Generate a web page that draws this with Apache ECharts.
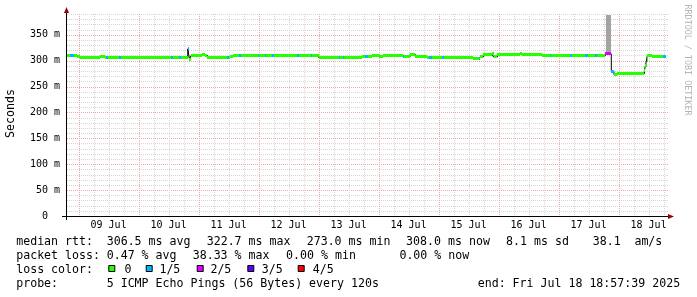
<!DOCTYPE html>
<html><head><meta charset="utf-8">
<script src="https://cdn.jsdelivr.net/npm/echarts@6/dist/echarts.min.js"></script>
<style>html,body{margin:0;padding:0;background:#fff}#c{width:697px;height:297px}</style>
</head><body><div id="c"></div>
<script>
// ---- data (times are July 2025, "MM-DD HH:MM") ----
const startTime = '07-08 18:57:39';
const endTime = '07-18 18:57:39';
const times = [
 '07-08 18:57','07-08 20:40','07-08 22:20','07-08 23:30','07-09 00:40','07-09 08:40','07-09 10:40','07-09 11:05','07-09 11:50',
 '07-09 16:15','07-09 16:55','07-10 13:05','07-10 13:40','07-10 16:15','07-10 16:55','07-10 19:40','07-10 20:20','07-10 21:00',
 '07-11 01:25','07-11 02:40','07-11 03:30','07-11 11:30','07-11 12:00','07-11 12:40','07-11 13:55','07-11 16:20','07-11 17:05',
 '07-11 23:55','07-12 00:20','07-12 02:40','07-12 03:05','07-12 05:30','07-12 06:00','07-12 15:30','07-12 16:20','07-12 21:05',
 '07-12 21:30','07-13 00:00','07-13 08:15','07-13 08:40','07-13 09:50','07-13 10:15','07-13 17:30','07-13 18:40','07-13 19:55',
 '07-13 21:30','07-14 00:00','07-14 01:55','07-14 09:55','07-14 10:20','07-14 12:40','07-14 14:40','07-14 19:30','07-14 20:20',
 '07-14 21:25','07-15 01:30','07-15 02:10','07-15 13:55','07-15 16:00','07-15 16:25','07-15 17:55','07-15 21:30','07-15 22:00',
 '07-15 23:30','07-16 08:40','07-16 09:10','07-16 17:30','07-16 20:40','07-16 21:05','07-17 04:40','07-17 05:25','07-17 10:40',
 '07-17 11:55','07-17 14:40','07-17 15:25','07-17 18:40','07-17 21:05','07-17 22:10','07-17 23:30','07-18 10:20','07-18 10:45',
 '07-18 11:10','07-18 11:30','07-18 13:30','07-18 17:55'
];
const median = [
 310,310,310,308,306,308,306,306,306,
 306,306,306,306,306,306,322.7,303,310,
 312,310,306,306,306,308,310,310,310,
 310,310,310,310,310,310,310,310,310,
 310,306,306,306,306,306,308,308,308,
 310,308,310,308,308,312,308,306,306,
 306,306,306,305,305,307,311,313,307,
 312,313,312,310,309,309,309,309,309,
 309,309,309,313,279,273,275,281,291,
 301,310,308,308
];
const loss = [
 0,1,0,0,0,0,0,1,0,
 1,0,1,0,1,0,1,0,0,
 0,0,0,1,0,0,0,1,0,
 1,0,1,0,1,0,1,0,1,
 0,0,1,0,1,0,0,1,0,
 0,0,0,1,0,0,0,0,1,
 0,1,0,0,1,0,0,0,0,
 0,0,0,0,1,0,1,0,1,
 0,1,0,2,1,0,0,0,0,
 0,0,0,1
];
const smokeStart = ['07-17 19:05'];
const smokeEnd = ['07-17 21:05'];
const smokeLow = [313];
const smokeHigh = [388];
const dayLabels = ['09 Jul','10 Jul','11 Jul','12 Jul','13 Jul','14 Jul','15 Jul','16 Jul','17 Jul','18 Jul'];
const lossColors = ['#26ff00','#00b8ff','#dd00ff','#5e00ff','#ff0000'];
const lossNames = ['0','1/5','2/5','3/5','4/5'];
const yMax = 390;

// ---- helpers ----
function hrs(s){ // hours since 09 Jul 00:00
  const parts = s.split(' ');
  const da = Number(parts[0].split('-')[1]);
  const t = parts[1].split(':').map(Number);
  return (da - 9) * 24 + t[0] + t[1] / 60 + (t[2] || 0) / 3600;
}
const tStart = hrs(startTime), tEnd = hrs(endTime);
const bandData = times.map((t, i) => [hrs(t), i + 1 < times.length ? hrs(times[i + 1]) : tEnd, median[i], loss[i]]);
const lineData = times.map((t, i) => [hrs(t), median[i]]).concat([[tEnd, median[median.length - 1]]]);
const smokeData = smokeStart.map((s, i) => [hrs(s), hrs(smokeEnd[i]), smokeLow[i], smokeHigh[i]]);
const vGrid = [];
for (let h = 0; h <= tEnd; h += 6) vGrid.push([h, h % 24 === 0 ? 1 : 0]);
const hGrid = [];
for (let v = 10; v <= yMax; v += 10) hGrid.push([tStart, v, v % 50 === 0 ? 1 : 0]);
const labelHours = dayLabels.map((d, i) => i * 24 + 12);

const MONO = 'DejaVu Sans Mono';
const RED = '#eca8a8', GREY = '#d6d6d6';

const chart = echarts.init(document.getElementById('c'), null, {renderer: 'canvas', devicePixelRatio: 1});

const graphics = [];
// axes + arrows
graphics.push({type: 'line', shape: {x1: 62, y1: 216.5, x2: 670, y2: 216.5}, style: {stroke: '#000', lineWidth: 1}, z: 100});
graphics.push({type: 'line', shape: {x1: 66.5, y1: 220, x2: 66.5, y2: 10}, style: {stroke: '#000', lineWidth: 1}, z: 100});
graphics.push({type: 'polygon', shape: {points: [[64, 13], [69, 13], [66.5, 7]]}, style: {fill: '#990000'}, z: 101});
graphics.push({type: 'polygon', shape: {points: [[668, 214], [668, 219], [674, 216.5]]}, style: {fill: '#990000'}, z: 101});
// titles
graphics.push({type: 'text', x: 11, y: 113.5, rotation: Math.PI / 2,
  style: {text: 'Seconds', fontFamily: MONO, fontSize: 11.6, fill: '#000', align: 'center', verticalAlign: 'middle'}});
graphics.push({type: 'text', x: 687, y: 60, rotation: -Math.PI / 2,
  style: {text: 'RRDTOOL / TOBI OETIKER', fontFamily: MONO, fontSize: 8.4, fill: '#b4b4b4', align: 'center', verticalAlign: 'middle'}});
// legend text pieces
const legendPieces = [
  [0, 16.2, 'median rtt:'], [0, 106.7, '306.5 ms avg'], [0, 206.7, '322.7 ms max'], [0, 306.7, '273.0 ms min'],
  [0, 406.1, '308.0 ms now'], [0, 506.1, '8.1 ms sd'], [0, 592.7, '38.1'], [0, 634.4, 'am/s'],
  [1, 16.2, 'packet loss:'], [1, 106.7, '0.47 % avg'], [1, 192.7, '38.33 % max'], [1, 286.1, '0.00 % min'], [1, 399.4, '0.00 % now'],
  [2, 16.2, 'loss color:'],
  [3, 16.2, 'probe:'], [3, 106.7, '5 ICMP Echo Pings (56 Bytes) every 120s'], [3, 477.7, 'end: Fri Jul 18 18:57:39 2025']
];
const rowY = [241.5, 255.5, 269.5, 283.5];
legendPieces.forEach(p => graphics.push({type: 'text', x: p[1], y: rowY[p[0]],
  style: {text: p[2], fontFamily: MONO, fontSize: 11.6, fill: '#000', align: 'left', verticalAlign: 'middle'}}));
const boxX = [108.3, 145.7, 196.7, 247.3, 297.7];
const boxLabelX = [124.4, 159.4, 210.4, 261.7, 312.7];
lossNames.forEach((n, i) => {
  graphics.push({type: 'rect', shape: {x: boxX[i] + 0.5, y: 265.5, width: 6, height: 6},
    style: {fill: lossColors[i], stroke: '#000', lineWidth: 1}});
  graphics.push({type: 'text', x: boxLabelX[i], y: rowY[2],
    style: {text: n, fontFamily: MONO, fontSize: 11.6, fill: '#000', align: 'left', verticalAlign: 'middle'}});
});

chart.setOption({
  animation: false,
  backgroundColor: '#fff',
  grid: {left: 66, top: 14, width: 600, height: 202, containLabel: false},
  xAxis: {
    type: 'value', min: tStart, max: tEnd,
    axisLine: {show: false}, axisTick: {show: false}, splitLine: {show: false},
    axisLabel: {customValues: labelHours, formatter: v => dayLabels[Math.round((v - 12) / 24)],
      fontFamily: MONO, fontSize: 10, color: '#000', margin: 4}
  },
  yAxis: {
    type: 'value', min: 0, max: yMax, interval: 50,
    axisLine: {show: false}, axisTick: {show: false}, splitLine: {show: false},
    axisLabel: {formatter: v => (v % 50 === 0 ? (v === 0 ? '0  ' : v + ' m') : ''),
      fontFamily: MONO, fontSize: 10, color: '#000', margin: 6}
  },
  series: [
    {
      type: 'custom', name: 'hgrid', z: 1, silent: true, data: hGrid, encode: {x: 0, y: 1},
      renderItem: (params, api) => {
        const p0 = api.coord([tStart, api.value(1)]);
        const p1 = api.coord([tEnd, api.value(1)]);
        const y = Math.round(p0[1]) + 0.5;
        return {type: 'line', shape: {x1: Math.round(p0[0]) + 1, y1: y, x2: Math.round(p1[0]) + 2, y2: y},
          style: {stroke: api.value(2) ? RED : GREY, lineWidth: 1, lineDash: [1, 1]}};
      }
    },
    {
      type: 'custom', name: 'vgrid', z: 1, silent: true, data: vGrid, encode: {x: 0, y: -1},
      renderItem: (params, api) => {
        const p0 = api.coord([api.value(0), 0]);
        const p1 = api.coord([api.value(0), yMax]);
        const x = Math.round(p0[0]) + 0.5;
        return {type: 'line', shape: {x1: x, y1: Math.round(p1[1]), x2: x, y2: Math.round(p0[1])},
          style: {stroke: api.value(1) ? RED : GREY, lineWidth: 1, lineDash: [1, 1]}};
      }
    },
    {
      type: 'custom', name: 'smoke', z: 2, silent: true, data: smokeData, encode: {x: [0, 1], y: [2, 3]},
      renderItem: (params, api) => {
        const a = api.coord([api.value(0), api.value(3)]);
        const b = api.coord([api.value(1), api.value(2)]);
        return {type: 'rect', shape: {x: Math.round(a[0]), y: Math.round(a[1]), width: Math.round(b[0]) - Math.round(a[0]), height: Math.round(b[1]) - Math.round(a[1])},
          style: {fill: '#a3a3a3'}};
      }
    },
    {
      type: 'line', name: 'median', z: 3, step: 'end', symbol: 'none', silent: true, data: lineData,
      lineStyle: {color: '#000', width: 1}
    },
    {
      type: 'custom', name: 'median loss band', z: 4, silent: true, data: bandData, encode: {x: [0, 1], y: 2},
      renderItem: (params, api) => {
        const a = api.coord([api.value(0), api.value(2)]);
        const b = api.coord([api.value(1), api.value(2)]);
        const x0 = Math.round(a[0]);
        const x1 = Math.max(Math.round(b[0]), x0 + 1);
        const y = Math.round(a[1] - 1.5);
        return {type: 'rect', shape: {x: x0, y: y, width: x1 - x0, height: 3},
          style: {fill: lossColors[api.value(3)]}};
      }
    }
  ],
  graphic: graphics
});
</script>
</body></html>
